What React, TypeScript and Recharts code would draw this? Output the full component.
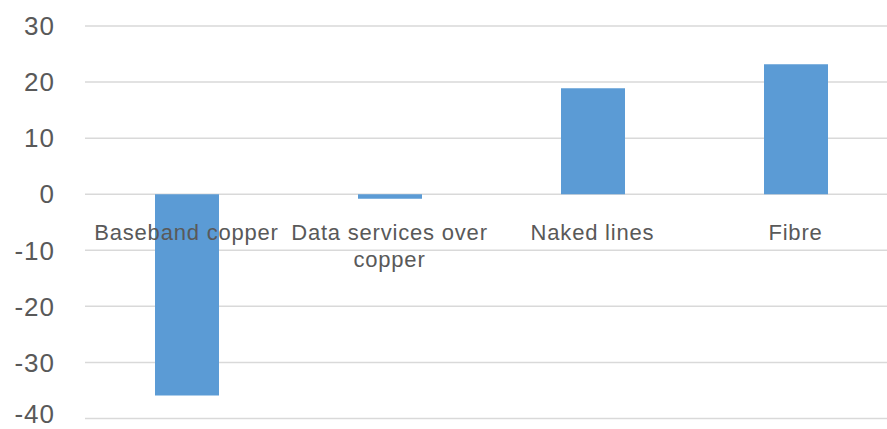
import React from 'react';
import { BarChart, Bar, XAxis, YAxis, CartesianGrid } from 'recharts';

const categories = ['Baseband copper', 'Data services over copper', 'Naked lines', 'Fibre'];
const changeValues = [-35.9, -0.8, 18.9, 23.2];
const yTicks = [30, 20, 10, 0, -10, -20, -30, -40];

const data = categories.map((name, i) => ({ name, change: changeValues[i] }));

const CHART_W = 897;
const CHART_H = 429;
const X_AXIS_H = 10.5;
const MARGIN = { top: 26, right: 0, bottom: 0, left: 0 };
const Y_MAX = 30;
const Y_MIN = -40;
const plotH = CHART_H - MARGIN.top - MARGIN.bottom - X_AXIS_H;
// category labels sit just under the zero line, not at the bottom of the plot
const zeroY = MARGIN.top + plotH * (Y_MAX / (Y_MAX - Y_MIN));

const font = '"Liberation Sans", Arial, sans-serif';
const MAX_LINE_CHARS = 18;

// greedy word wrap so long category names break onto a second line
const wrapLabel = (label: string) => {
  const lines: string[] = [];
  let cur = '';
  label.split(' ').forEach((w) => {
    const next = cur ? cur + ' ' + w : w;
    if (next.length > MAX_LINE_CHARS && cur) {
      lines.push(cur);
      cur = w;
    } else {
      cur = next;
    }
  });
  if (cur) lines.push(cur);
  return lines;
};

const CategoryTick = (props: any) => {
  const { x, payload } = props;
  const lines = wrapLabel(String(payload.value));
  return (
    <text
      x={x}
      y={zeroY + 46}
      textAnchor="middle"
      fill="#595959"
      style={{ fontFamily: font, fontSize: 22, letterSpacing: 0.8 }}
    >
      {lines.map((line, i) => (
        <tspan key={i} x={x} dy={i === 0 ? 0 : 27}>
          {line}
        </tspan>
      ))}
    </text>
  );
};

export default function App() {
  return (
    <div style={{ position: 'absolute', left: 0, top: 0, width: 887, height: 429, overflow: 'hidden', background: '#fff' }}>
      <BarChart width={CHART_W} height={CHART_H} data={data} margin={MARGIN}>
        <CartesianGrid vertical={false} stroke="#d9d9d9" strokeWidth={1.5} />
        <XAxis
          dataKey="name"
          height={X_AXIS_H}
          axisLine={false}
          tickLine={false}
          interval={0}
          tick={CategoryTick}
        />
        <YAxis
          width={85}
          domain={[Y_MIN, Y_MAX]}
          ticks={yTicks}
          axisLine={false}
          tickLine={false}
          tickSize={0}
          tickMargin={30}
          tick={{ fill: '#595959', fontSize: 26, fontFamily: font, letterSpacing: 1 }}
        />
        <Bar dataKey="change" fill="#5b9bd5" barSize={64} isAnimationActive={false} />
      </BarChart>
    </div>
  );
}
